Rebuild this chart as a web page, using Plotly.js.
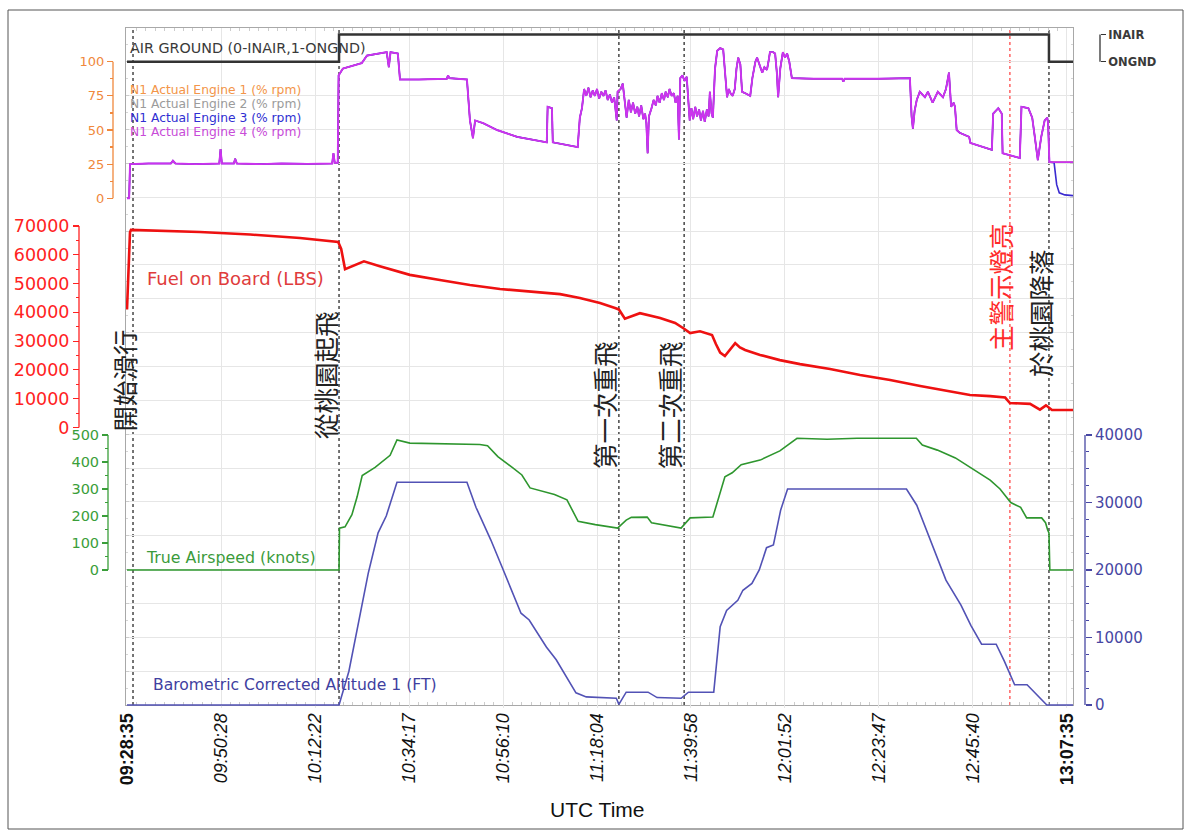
<!DOCTYPE html>
<html>
<head>
<meta charset="utf-8">
<script src="https://cdn.plot.ly/plotly-3.0.1.min.js"></script>
<style>
html,body{margin:0;padding:0;background:#ffffff;}
#chart{width:1190px;height:830px;}
</style>
</head>
<body>
<div id="chart"></div>
<script>
// ================= DATA (time = minutes after 09:28:35 UTC) =================
const tickMinutes = [0, 21.9, 43.8, 65.7, 87.6, 109.5, 131.4, 153.3, 175.2, 197.1, 219.0];
const tickLabels = ['09:28:35','09:50:28','10:12:22','10:34:17','10:56:10','11:18:04','11:39:58','12:01:52','12:23:47','12:45:40','13:07:35'];

const eventMinutes = [1.4, 49.4, 114.6, 129.8, 205.7, 214.8];
const eventLabels = ['開始滑行','從桃園起飛','第一次重飛','第二次重飛','主警示燈亮','於桃園降落'];

// AIR GROUND discrete (0 = INAIR, 1 = ONGND)
const agTime = [0, 49.4, 214.8, 220.4];
const agState = [1, 0, 1, 1];
const agTickVals = [0, 1];
const agTickText = ['INAIR', 'ONGND'];

// N1 (% rpm) – engine 4 (engines 1, 2 overlap it)
const n1Time = [0,0.5,0.7,5,10.2,10.7,11.3,16,21.5,21.8,
  22.1,24.9,25.2,25.6,31,36,42,47.8,48.1,48.4,
  49.1,49.3,50.3,52.5,54.7,55.9,58,60.5,61.0,61.4,
  63.1,63.6,68,74.5,74.8,75.1,79.2,79.9,80.6,81.1,
  83,86.2,90.9,94,97.8,98.0,99.0,99.2,102,105.0,
  105.5,106.0,106.5,107.0,107.5,108.0,108.5,109.0,109.5,110.0,
  110.5,111.0,111.5,112.0,112.5,113.0,113.5,113.9,114.1,114.3,
  115.0,115.5,116.0,116.4,116.9,117.4,117.9,118.4,118.9,119.3,
  119.8,120.3,120.7,121.0,121.3,121.6,122.2,122.7,123.2,123.6,
  124.1,124.6,125.1,125.5,126.0,126.4,126.9,127.4,127.8,128.3,
  128.6,128.9,129.4,129.9,130.4,130.8,131.1,131.5,131.9,132.4,
  132.8,133.3,133.7,134.2,134.6,135.1,135.5,135.8,136.2,136.5,
  137.0,137.5,138.2,138.9,139.3,139.8,140.2,140.6,141.1,141.6,
  142.0,142.4,142.9,143.3,144.0,144.6,145.2,145.7,146.4,146.8,
  147.3,148.0,148.5,149.1,149.5,149.8,150.5,151.0,151.4,151.7,
  152.2,152.8,153.3,153.8,154.3,154.9,160,166.6,166.9,167.2,
  175,182.4,182.8,183.1,183.5,184.0,184.7,185.9,186.6,187.7,
  188.9,190.1,190.8,191.5,192.0,192.6,192.9,193.3,194,196.2,
  196.5,201.5,201.8,203.0,203.8,204.0,208.0,208.4,210.0,210.9,
  211.5,212.2,213.0,213.8,214.4,214.6,214.9,220.4];
const n1Engine4 = [0,0,25,25.5,25.5,27.5,25.5,25,25.5,36,
  25.5,25.5,29,25.5,25,25.5,25.2,25.5,33,26,
  26,90,95,97,99,104.5,105.5,107,96,107,
  106,87,87,87.5,90,88,87,57,44,57,
  55,50,45,43,41,67,66,41,39.5,37.5,
  59,66,80,75,81,74,79,75,80,73,
  78,75,79,72,76,70,74,64,57,78,
  80,84,70,59,72,63,70,62,67,60,
  68,58,62,55,33,60,66,72,68,75,
  70,77,72,78,74,80,75,77,70,75,
  43,88,90,86,89,70,57,66,58,67,
  60,65,57,64,56,65,60,78,62,59,
  95,108,110,109,95,74,80,77,75,80,
  95,103,98,78,77,76,75,88,100,103,
  98,92,96,94,101,107,107,106,92,74,
  95,107,103,106,100,88,87.5,87.5,85.5,87.5,
  87.5,88,60,51,64,72,78,74,78,70,
  78,74,80,92,67,70,67,50,48,45,
  40.5,35.5,62,66,62,33,29.5,67,66,59,
  45,28,45,57,59,55,26.5,26.5];
// engine 3 follows engine 4 until landing, then spools down
const n1Engine3TailTime = [214.9, 216.0, 216.6, 217.2, 218.5, 220.4];
const n1Engine3Tail = [26.5, 26, 10, 4, 2.5, 2];

// Fuel on Board (LBS)
const fuelTime = [0,0.47,0.7,0.93,17.0,28.7,40.3,49.2,49.9,50.8,
  52.0,55.2,58.9,62.4,65.9,72.9,79.9,86.9,96.2,100.9,
  105.5,110.2,113.7,114.6,116.0,117.7,119.5,124.2,127.7,129.8,
  131.2,133.5,136.3,137.2,138.2,139.3,140.5,141.7,142.8,144.0,
  147.5,152.1,156.8,163.8,170.8,177.8,184.8,191.7,196.4,201.1,
  204.6,205.7,210.4,212.7,214.1,215.5,220.4];
const fuelLbs = [41000,60000,67800,68600,67900,67000,65800,64400,62000,55000,
  55800,57700,56000,54600,53000,51200,49500,48100,47000,46300,
  45000,43200,41500,41000,37800,38600,39700,38000,36300,34300,
  32800,33400,32100,29000,26000,24800,27000,29300,27800,26900,
  25200,23400,22000,20300,18200,16500,14400,12700,11300,10900,
  10400,8500,8200,6200,7700,6100,6100];

// True Airspeed (knots)
const tasTime = [0,49.4,49.5,50.8,52.4,53.6,54.8,57.8,61.3,62.9,
  65.9,75.2,82.2,84.0,86.4,89.9,92.0,93.9,99.6,102.5,
  105.1,109.1,114.3,116.3,117.5,121.2,122.2,129.1,131.2,136.5,
  137.9,139.3,141.0,143.1,147.5,152.1,156.1,163.1,170.1,177.6,
  183.9,185.3,188.8,193.0,197.6,201.1,203.4,205.9,208.2,209.6,
  213.1,214.0,214.5,214.8,215.0,220.4];
const tasKnots = [0,0,155,160,205,270,350,380,425,482,
  470,468,465,460,420,378,352,304,280,260,
  180,168,155,185,195,196,175,155,193,196,
  270,345,360,390,407,441,488,484,488,488,
  488,463,444,415,370,333,300,250,232,193,
  193,175,148,137,0,0];

// Barometric Corrected Altitude 1 (FT)
const altTime = [0,49.4,51.7,53.8,56.2,58.5,60.4,62.9,79.2,81.3,
  84.8,87.4,91.8,93.7,97.7,100.0,104.6,107.0,114.0,114.6,
  116.3,121.4,123.5,129.1,130.8,136.7,138.2,139.7,142.3,143.5,
  145.6,147.3,149.0,150.6,152.3,153.9,181.6,184.0,187.2,190.8,
  194.3,196.6,199.1,202.5,204.4,206.8,209.7,214.3,220.4];
const altFt = [0,0,5000,12000,19500,25500,28000,33000,33000,29300,
  24400,20400,13600,12600,8600,6700,1800,1200,1000,100,
  1900,1900,1100,1000,1900,1900,11600,14000,15500,17000,
  18000,20000,23300,23700,28900,32000,32000,29600,24400,18500,
  14800,11800,9000,9000,6500,3000,3000,0,0];

const n1TickVals = [0, 25, 50, 75, 100];
const fuelTickVals = [0, 10000, 20000, 30000, 40000, 50000, 60000, 70000];
const tasTickVals = [0, 100, 200, 300, 400, 500];
const altTickVals = [0, 10000, 20000, 30000, 40000];

// ================= STYLE / LAYOUT =================
const W = 1190, H = 830;
const px = v => v / W;
const py = v => 1 - v / H;
const FONT = 'DejaVu Sans, Verdana, sans-serif';
const C = {
  orange: '#f0883c', grey: '#9a9a9a', e3: '#3a2ad0', e4: '#cc33ee',
  red: '#ff2222', redLine: '#ee1111', green: '#3a9e3a', greenLine: '#2e962e',
  alt: '#4747a3', altLine: '#5252b5', black: '#333333', grid: '#e6e6e6', frame: '#a8a8a8'
};
const midTicks = vals => vals.slice(0, -1).map((v, i) => (v + vals[i + 1]) / 2);
const quarterTicks = vals => {
  const out = [];
  for (let i = 0; i < vals.length - 1; i++) {
    const s = (vals[i + 1] - vals[i]) / 4;
    out.push(vals[i] + s, vals[i] + 2 * s, vals[i] + 3 * s);
  }
  return out;
};

const keepCount = n1Time.filter(t => t < n1Engine3TailTime[0]).length;
const engine3Time = n1Time.slice(0, keepCount).concat(n1Engine3TailTime);
const engine3Vals = n1Engine4.slice(0, keepCount).concat(n1Engine3Tail);

const traces = [
  {x: [], y: [], xaxis: 'x', yaxis: 'y', type: 'scatter', hoverinfo: 'skip', showlegend: false},
  {name: 'N1 Actual Engine 1 (% rpm)', x: n1Time, y: n1Engine4, xaxis: 'x', yaxis: 'y2', mode: 'lines', line: {color: C.orange, width: 1.2}},
  {name: 'N1 Actual Engine 2 (% rpm)', x: n1Time, y: n1Engine4, xaxis: 'x', yaxis: 'y2', mode: 'lines', line: {color: C.grey, width: 1.2}},
  {name: 'N1 Actual Engine 3 (% rpm)', x: engine3Time, y: engine3Vals, xaxis: 'x', yaxis: 'y2', mode: 'lines', line: {color: C.e3, width: 1.6}},
  {name: 'N1 Actual Engine 4 (% rpm)', x: n1Time, y: n1Engine4, xaxis: 'x', yaxis: 'y2', mode: 'lines', line: {color: C.e4, width: 1.9}},
  {name: 'AIR GROUND', x: agTime, y: agState, xaxis: 'x', yaxis: 'y3', mode: 'lines', line: {color: C.black, width: 2.5, shape: 'hv'}},
  {name: 'Fuel on Board (LBS)', x: fuelTime, y: fuelLbs, xaxis: 'x', yaxis: 'y4', mode: 'lines', line: {color: C.redLine, width: 2.6}},
  {name: 'True Airspeed (knots)', x: tasTime, y: tasKnots, xaxis: 'x', yaxis: 'y5', mode: 'lines', line: {color: C.greenLine, width: 1.6}},
  {name: 'Barometric Corrected Altitude 1 (FT)', x: altTime, y: altFt, xaxis: 'x', yaxis: 'y6', mode: 'lines', line: {color: C.altLine, width: 1.6}}
];

function sideAxis(opts) {
  return Object.assign({
    anchor: 'free', showgrid: false, zeroline: false, showline: false,
    tickmode: 'array', ticks: 'outside', ticklen: 6, tickwidth: 1.2,
    tickformat: 'd', fixedrange: true
  }, opts);
}

const layout = {
  width: W, height: H,
  margin: {l: 0, r: 0, t: 0, b: 0, pad: 0},
  paper_bgcolor: '#ffffff', plot_bgcolor: 'rgba(0,0,0,0)',
  showlegend: false,
  font: {family: FONT, color: C.black},
  xaxis: {
    domain: [px(126), px(1073)], range: [-0.233, 220.4], anchor: 'y',
    tickmode: 'array', tickvals: tickMinutes,
    ticktext: tickLabels.map((s, i) => (i === 0 || i === tickLabels.length - 1) ? '<b>' + s + '</b>' : '<i>' + s + '</i>'),
    tickangle: -90, tickfont: {family: 'Liberation Sans, Arial, sans-serif', size: 18, color: '#111'},
    showgrid: true, gridcolor: C.grid, gridwidth: 1, zeroline: false,
    showline: true, linecolor: C.frame, linewidth: 1, mirror: 'ticks',
    ticks: 'inside', ticklen: 4, tickcolor: '#bbbbbb',
    minor: {dtick: 2.19, ticks: 'inside', ticklen: 3, tickcolor: '#cccccc'},
    automargin: false, fixedrange: true
  },
  yaxis: {
    domain: [py(705), py(28)], range: [0, 20], dtick: 1,
    showgrid: true, gridcolor: C.grid, showticklabels: false, zeroline: false,
    showline: true, linecolor: C.frame, mirror: 'ticks',
    ticks: 'inside', ticklen: 3, tickcolor: '#cccccc',
    minor: {dtick: 0.5, ticks: 'inside', ticklen: 2, tickcolor: '#d5d5d5'},
    automargin: false, fixedrange: true
  },
  yaxis2: sideAxis({
    domain: [py(205), py(28)], range: [-4.9, 124.7], side: 'left', position: px(113),
    tickvals: n1TickVals, tickcolor: C.orange, tickfont: {family: FONT, size: 13, color: C.orange},
    minor: {tickmode: 'array', tickvals: midTicks(n1TickVals), ticks: 'outside', ticklen: 3, tickcolor: C.orange}
  }),
  yaxis3: sideAxis({
    overlaying: 'y2', range: [6.27, -0.239], side: 'right', position: px(1100),
    tickvals: agTickVals, ticktext: agTickText, ticklen: 5, tickcolor: C.black,
    tickfont: {family: FONT, size: 11.5, color: '#3a3a3a', weight: 'bold'}
  }),
  yaxis4: sideAxis({
    domain: [py(432), py(205)], range: [-1563, 77257], side: 'left', position: px(79),
    tickvals: fuelTickVals, tickcolor: C.red, tickfont: {family: FONT, size: 17.5, color: C.red},
    minor: {tickmode: 'array', tickvals: midTicks(fuelTickVals), ticks: 'outside', ticklen: 3, tickcolor: C.red}
  }),
  yaxis5: sideAxis({
    domain: [py(708), py(432)], range: [-511.1, 511.1], side: 'left', position: px(108),
    tickvals: tasTickVals, tickcolor: C.green, tickfont: {family: FONT, size: 14.5, color: C.green},
    minor: {tickmode: 'array', tickvals: midTicks(tasTickVals), ticks: 'outside', ticklen: 3, tickcolor: C.green}
  }),
  yaxis6: sideAxis({
    overlaying: 'y5', range: [-444, 40444], side: 'right', position: px(1085),
    tickvals: altTickVals, tickcolor: C.alt, tickfont: {family: FONT, size: 15, color: C.alt},
    minor: {tickmode: 'array', tickvals: quarterTicks(altTickVals), ticks: 'outside', ticklen: 3, tickcolor: C.alt}
  }),
  shapes: [],
  annotations: []
};

// axis spines limited to the labelled range
const spine = (yref, xp, v0, v1, color) => ({type: 'line', xref: 'paper', yref: yref, x0: xp, x1: xp, y0: v0, y1: v1, line: {color: color, width: 1.3}});
layout.shapes.push(spine('y2', px(113), n1TickVals[0], n1TickVals[n1TickVals.length - 1], C.orange));
layout.shapes.push(spine('y3', px(1100), agTickVals[0], agTickVals[1], C.black));
layout.shapes.push(spine('y4', px(79), fuelTickVals[0], fuelTickVals[fuelTickVals.length - 1], C.red));
layout.shapes.push(spine('y5', px(108), tasTickVals[0], tasTickVals[tasTickVals.length - 1], C.green));
layout.shapes.push(spine('y6', px(1085), altTickVals[0], altTickVals[altTickVals.length - 1], C.alt));

// event marker lines
const eventColor = i => (i === 4 ? '#ff4a4a' : '#2a2a2a');
eventMinutes.forEach((t, i) => {
  layout.shapes.push({type: 'line', xref: 'x', yref: 'paper', x0: t, x1: t, y0: py(705), y1: py(28),
    layer: 'below', line: {color: eventColor(i), width: 1.3, dash: 'dot'}});
});

// outer frame of the figure
layout.shapes.push({type: 'rect', xref: 'paper', yref: 'paper', x0: px(8), x1: px(1183), y0: py(829), y1: py(10),
  line: {color: '#555555', width: 1}, fillcolor: 'rgba(0,0,0,0)'});

// event captions (vertical)
const eventPlacement = [[-10.5, 381], [-15, 375], [-16, 405], [-16, 405], [-11, 287], [-10, 313]];
eventLabels.forEach((s, i) => {
  layout.annotations.push({text: s, x: eventMinutes[i], xref: 'x', xshift: eventPlacement[i][0],
    y: py(eventPlacement[i][1]), yref: 'paper', xanchor: 'center', yanchor: 'middle', textangle: -90,
    showarrow: false, font: {family: 'Noto Sans CJK TC, Noto Sans CJK SC, sans-serif', size: 25.5, color: i === 4 ? '#ff2a2a' : '#222'}});
});

// in-plot series captions
const label = (text, x, y, size, color, extra) => Object.assign({text: text, x: px(x), y: py(y), xref: 'paper', yref: 'paper',
  xanchor: 'left', yanchor: 'middle', showarrow: false, borderpad: 0, font: {family: FONT, size: size, color: color}}, extra || {});
layout.annotations.push(label('AIR GROUND (0-INAIR,1-ONGND)', 129, 48, 14.3, '#3a3a3a'));
layout.annotations.push(label(traces[1].name, 129, 90, 12.3, '#f39548'));
layout.annotations.push(label(traces[2].name, 129, 104, 12.3, '#9b9b9b'));
layout.annotations.push(label(traces[3].name, 129, 118, 12.3, '#2f2fd2'));
layout.annotations.push(label(traces[4].name, 129, 132, 12.3, '#c84bd8'));
layout.annotations.push(label(traces[6].name, 146, 278, 18, '#e03c3c'));
layout.annotations.push(label(traces[7].name, 145, 557, 15.8, '#3b9b3b'));
layout.annotations.push(label(traces[8].name, 152, 685, 15.6, '#4040a0'));
layout.annotations.push({text: 'UTC Time', x: px(597), y: py(809), xref: 'paper', yref: 'paper', xanchor: 'center', yanchor: 'middle',
  showarrow: false, font: {family: 'Liberation Sans, Arial, sans-serif', size: 21, color: '#111'}});

Plotly.newPlot('chart', traces, layout, {displayModeBar: false, staticPlot: true});
</script>
</body>
</html>
